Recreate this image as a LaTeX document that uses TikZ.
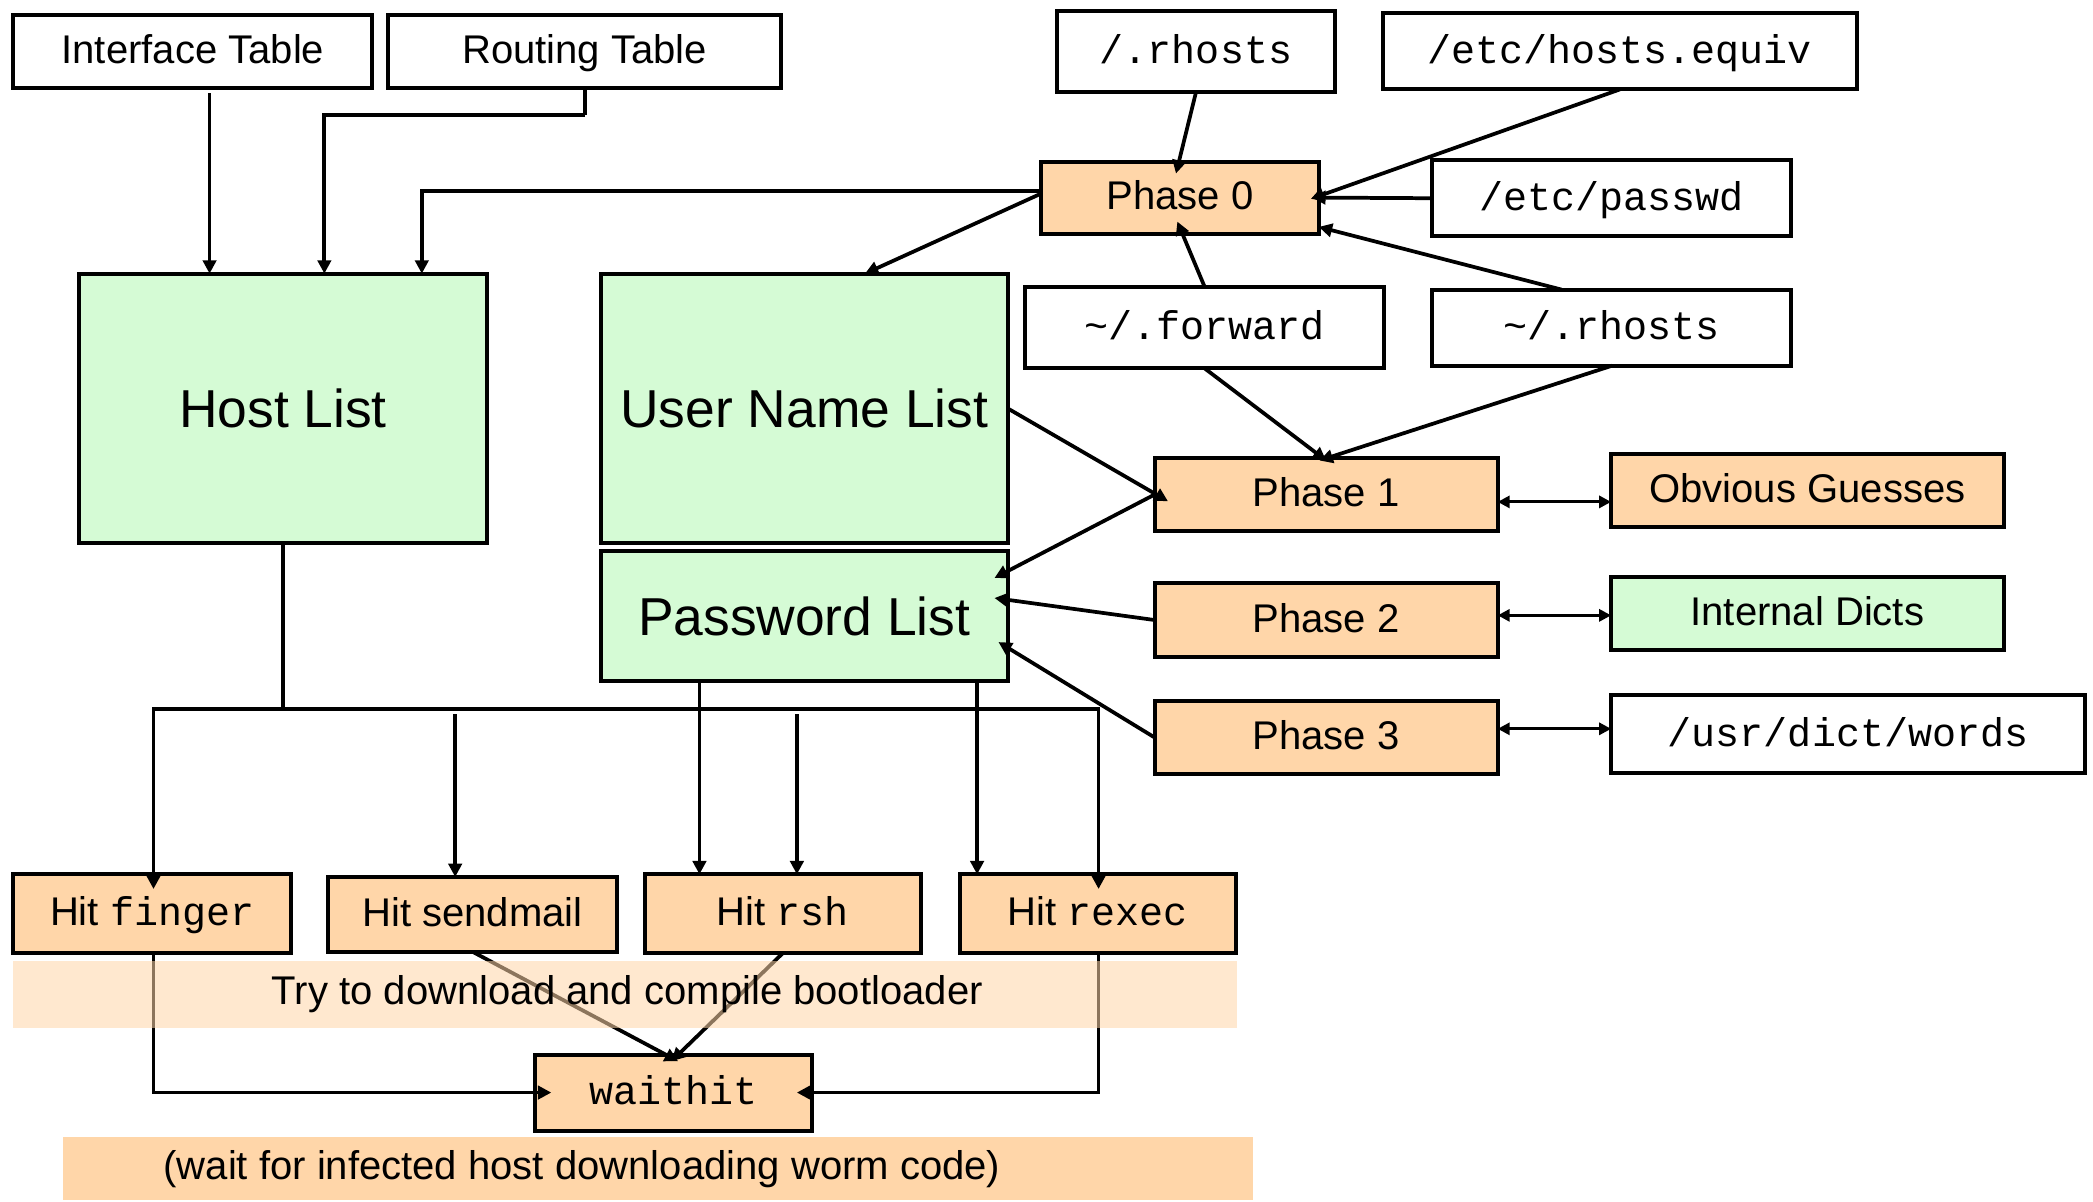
\documentclass[tikz,border=0pt]{standalone}
\usepackage{fontspec}
\setmainfont{Liberation Sans}
\setmonofont{Liberation Mono}
\usetikzlibrary{arrows.meta,calc}
\definecolor{peach}{RGB}{255,214,169}
\definecolor{mint}{RGB}{213,251,213}
\tikzset{
  box/.style={draw=black, line width=1.5pt, inner sep=0pt, outer sep=0pt, text=black, font=\fontsize{15}{18}\selectfont, text height=12pt, text depth=2.8pt},
  sz/.style 2 args={minimum width=#1*0.5pt, minimum height=#2*0.5pt},
  orangebox/.style={box, fill=peach},
  greenbox/.style={box, fill=mint},
  whitebox/.style={box, fill=white},
  mono/.style={font=\ttfamily\fontsize{15}{18}\selectfont},
  big/.style={font=\fontsize{20}{24}\selectfont, text height=16pt, text depth=1.7pt},
  arr/.style={line width=1.4pt, -{Triangle[length=5pt,width=5pt]}},
  darr/.style={line width=1.1pt, {Triangle[length=4.5pt,width=4.5pt]}-{Triangle[length=4.5pt,width=4.5pt]}},
  plain/.style={line width=1.4pt}
}
\begin{document}
\begin{tikzpicture}[x=0.5pt,y=-0.5pt]
\fill[white] (0,0) rectangle (1568,900);

% top sources
\node[whitebox, sz={269}{55}] (itab) at (144.5,38.5) {Interface Table};
\node[whitebox, sz={294}{55}] (rtab) at (438,38.5) {Routing Table};
\node[whitebox, sz={208}{61}, mono] (rh) at (896,38.5) {/.rhosts};
\node[whitebox, sz={355}{57}, mono] (heq) at (1213.5,38.5) {/etc/hosts.equiv};
\node[orangebox, sz={208}{54}] (p0) at (884,148) {Phase 0};
\node[whitebox, sz={269}{57}, mono] (pw) at (1207.5,148.5) {/etc/passwd};
\node[whitebox, sz={269}{61}, mono] (fwd) at (902.5,245.5) {\textasciitilde/.forward};
\node[whitebox, sz={269}{57}, mono] (urh) at (1207.5,245.5) {\textasciitilde/.rhosts};

% lists
\node[greenbox, sz={306}{202}, big] (host) at (212,306) {Host List};
\node[greenbox, sz={305}{202}, big] (user) at (602.5,306) {User Name List};
\node[greenbox, sz={305}{97}, big] (pass) at (602.5,461.5) {Password List};

% phases
\node[orangebox, sz={257}{55}] (p1) at (993.5,370.5) {Phase 1};
\node[orangebox, sz={294}{55}] (og) at (1354,367.5) {Obvious Guesses};
\node[orangebox, sz={257}{55}] (p2) at (993.5,464.5) {Phase 2};
\node[greenbox, sz={294}{55}] (idict) at (1354,459.5) {Internal Dicts};
\node[orangebox, sz={257}{55}] (p3) at (993.5,552.5) {Phase 3};
\node[whitebox, sz={355}{58}, mono] (words) at (1384.5,550) {/usr/dict/words};

% hits
\node[orangebox, sz={208}{59}] (hf) at (114,684.5) {Hit \texttt{finger}};
\node[orangebox, sz={216}{56}] (hs) at (354,685) {Hit sendmail};
\node[orangebox, sz={207}{59}] (hr) at (586.5,684.5) {Hit \texttt{rsh}};
\node[orangebox, sz={207}{59}] (hx) at (822.5,684.5) {Hit \texttt{rexec}};
\node[orangebox, sz={207}{57}, mono] (wh) at (504.5,818.5) {waithit};

% band 2
\node[fill=peach, inner sep=0pt, outer sep=0pt, sz={892}{47}] (band2) at (493,875.5) {};
\node[font=\fontsize{15}{18}\selectfont, inner sep=0pt] (band2txt) at (436,876) {(wait for infected host downloading worm code)};

% connectors: top
\coordinate (a1) at ($(itab.south)+(12.5,4)$);
\draw[arr] (a1) -- (a1 |- host.north);
\draw[plain] (rtab.south) -- ++(0,20) coordinate (rbend);
\draw[arr] (rbend) -| ($(host.north)+(31,0)$);
\draw[arr] ($(p0.west)+(0,-5)$) -| ($(host.north)+(104,0)$);
\draw[arr] ($(p0.west)+(0,-3)$) -- ($(user.north)+(45.5,0)$);

\draw[arr] (rh.south) -- ($(p0.north)+(-3,9)$);
\draw[arr] (heq.south) -- ($(p0.east)+(-6,1)$);
\draw[arr] (pw.west) -- ($(p0.east)+(-5,0)$);
\draw[arr] (fwd.north) -- ($(p0.south)+(-2,-9)$);
\draw[arr] ($(urh.north)+(-37.5,0)$) -- ($(p0.south east)+(0,-5)$);

\draw[arr] (fwd.south) -- ($(p1.north)+(0,2)$);
\draw[arr] (urh.south) -- ($(p1.north)+(-5,2)$);
\draw[arr] (user.east) -- ($(p1.west)+(10,5)$);
\draw[arr] (p1.west) -- ($(pass.north east)+(-10,20)$);
\draw[arr] (p2.west) -- ($(pass.east)+(-10,-13.5)$);
\draw[arr] (p3.west) -- ($(pass.east)+(-7,19.5)$);

\draw[darr] ($(p1.east)+(0,5.5)$) -- ($(og.west)+(0,8.5)$);
\draw[darr] ($(p2.east)+(0,-3.5)$) -- ($(idict.west)+(0,1.5)$);
\draw[darr] ($(p3.east)+(0,-6.5)$) -- ($(words.west)+(0,-4)$);

% bus
\draw[plain] (host.south) -- ++(0,124) coordinate (bus);
\draw[arr] (bus) -| ($(hf.north)+(1,11)$);
\draw[arr] (bus) -| ($(hx.north)+(0.5,11)$);
\draw[arr] ($(bus)+(129,4)$) -- ($(hs.north)+(-13,0)$);
\draw[arr] ($(pass.south)+(-78.5,0)$) -- ($(hr.north)+(-62.5,0)$);
\draw[arr] ($(bus)+(385,4)$) -- ($(hr.north)+(10.5,0)$);
\draw[arr] ($(pass.south)+(129.5,0)$) -- ($(hx.north)+(-90.5,0)$);

% to waithit
\draw[arr] ($(hf.south)+(1,0)$) |- ($(wh.west)+(12,0)$);
\draw[arr] ($(hx.south)+(0.5,0)$) |- ($(wh.east)+(-11,0)$);
\draw[arr] (hs.south) -- ($(wh.north)+(3.5,5)$);
\draw[arr] (hr.south) -- ($(wh.north)+(-1.5,5)$);

% band 1 (translucent, over the lines)
\node[fill=peach, fill opacity=0.55, inner sep=0pt, outer sep=0pt, sz={917}{50}] (band1) at (468.5,745) {};
\node[font=\fontsize{15}{18}\selectfont, inner sep=0pt] (band1txt) at (470,745) {Try to download and compile bootloader};
\end{tikzpicture}
\end{document}
